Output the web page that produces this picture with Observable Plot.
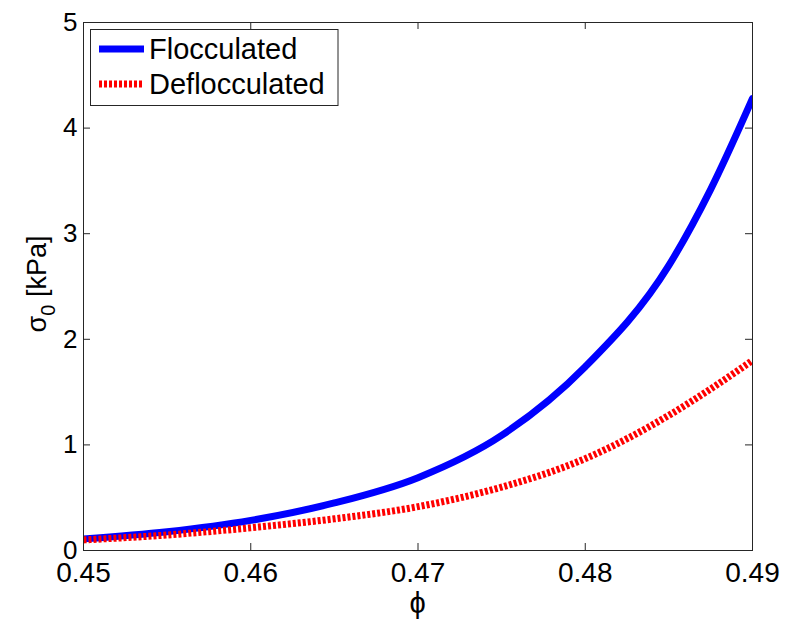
<!DOCTYPE html>
<html><head><meta charset="utf-8">
<script src="https://cdn.jsdelivr.net/npm/d3@7"></script>
<script src="https://cdn.jsdelivr.net/npm/@observablehq/plot@0.6"></script>
<style>body{margin:0;background:#fff}</style>
</head><body><div id="chart"></div>
<script>
// Data
const phi = [0.45, 0.455, 0.46, 0.465, 0.47, 0.475, 0.48, 0.485, 0.4875, 0.49];
const flocculated = [0.11, 0.178, 0.285, 0.45, 0.69, 1.09, 1.74, 2.70, 3.42, 4.28];
const deflocculated = [0.10, 0.147, 0.215, 0.30, 0.415, 0.60, 0.87, 1.28, 1.53, 1.80];
const seriesNames = ["Flocculated", "Deflocculated"];
const seriesColors = ["#0000ff", "#ff0000"];
const xTicks = [0.45, 0.46, 0.47, 0.48, 0.49];
const xTickLabels = ["0.45", "0.46", "0.47", "0.48", "0.49"];
const yTicks = [0, 1, 2, 3, 4, 5];
const yTickLabels = ["0", "1", "2", "3", "4", "5"];
const xLabel = "ϕ";
const yLabelMain = "σ";
const yLabelSub = "0";
const yLabelUnit = " [kPa]";

const flocData = phi.map((p, i) => ({phi: p, s: flocculated[i]}));
const deflocData = phi.map((p, i) => ({phi: p, s: deflocculated[i]}));

const W = 788, H = 623, mL = 83, mR = 36, mT = 22, mB = 73;
const fw = W - mL - mR, fh = H - mT - mB, tk = 7;
const axisColor = "#262626";
const font = "'Liberation Sans', Arial, Helvetica, sans-serif";

const svg = Plot.plot({
  width: W, height: H,
  marginLeft: mL, marginRight: mR, marginTop: mT, marginBottom: mB,
  x: {domain: [0.45, 0.49]},
  y: {domain: [0, 5]},
  style: {fontFamily: font, background: "#fff", color: "#000"},
  marks: [
    Plot.line(flocData, {x: "phi", y: "s", stroke: seriesColors[0], strokeWidth: 7, curve: "monotone-x", clip: true}),
    Plot.line(deflocData, {x: "phi", y: "s", stroke: seriesColors[1], strokeWidth: 7, strokeDasharray: "3,2", strokeLinecap: "butt", curve: "monotone-x", clip: true}),
    Plot.frame({stroke: axisColor}),
    Plot.tickX(xTicks, {x: d => d, insetTop: fh - tk, stroke: axisColor}),
    Plot.tickX(xTicks, {x: d => d, insetBottom: fh - tk, stroke: axisColor}),
    Plot.tickY(yTicks, {y: d => d, insetRight: fw - tk, stroke: axisColor}),
    Plot.tickY(yTicks, {y: d => d, insetLeft: fw - tk, stroke: axisColor}),
    Plot.axisX(xTicks, {tickSize: 0, tickPadding: 12, fontSize: 28, label: null, fill: "#000",
      tickFormat: d => xTickLabels[xTicks.indexOf(d)]}),
    Plot.axisY(yTicks, {tickSize: 0, tickPadding: 6, fontSize: 26, label: null, fill: "#000",
      tickFormat: d => yTickLabels[yTicks.indexOf(d)]})
  ]
});
document.getElementById("chart").appendChild(svg);

const s = d3.select(svg);
// x label
s.append("text")
  .attr("x", mL + fw / 2).attr("y", 613)
  .attr("text-anchor", "middle")
  .attr("font-family", font).attr("font-size", 29).attr("fill", "#000")
  .text(xLabel);
// y label with subscript
const yl = s.append("text")
  .attr("transform", `translate(46,${mT + fh / 2 - 2}) rotate(-90)`)
  .attr("text-anchor", "middle")
  .attr("font-family", font).attr("font-size", 27).attr("fill", "#000");
yl.append("tspan").text(yLabelMain);
yl.append("tspan").attr("dy", 9).attr("font-size", 20).text(yLabelSub);
yl.append("tspan").attr("dy", -9).text(yLabelUnit);

// legend
const lg = s.append("g");
lg.append("rect").attr("x", 90.5).attr("y", 29.5).attr("width", 247.5).attr("height", 76)
  .attr("fill", "#fff").attr("stroke", axisColor).attr("stroke-width", 1);
seriesNames.forEach((name, i) => {
  const cy = 49 + i * 35;
  lg.append("line").attr("x1", 99).attr("x2", 144).attr("y1", cy).attr("y2", cy)
    .attr("stroke", seriesColors[i]).attr("stroke-width", 7)
    .attr("stroke-dasharray", i === 1 ? "3,2" : null);
  lg.append("text").attr("x", 149).attr("y", cy + 10)
    .attr("text-anchor", "start")
    .attr("font-family", font).attr("font-size", 29).attr("fill", "#000")
    .text(name);
});
</script>
</body></html>
